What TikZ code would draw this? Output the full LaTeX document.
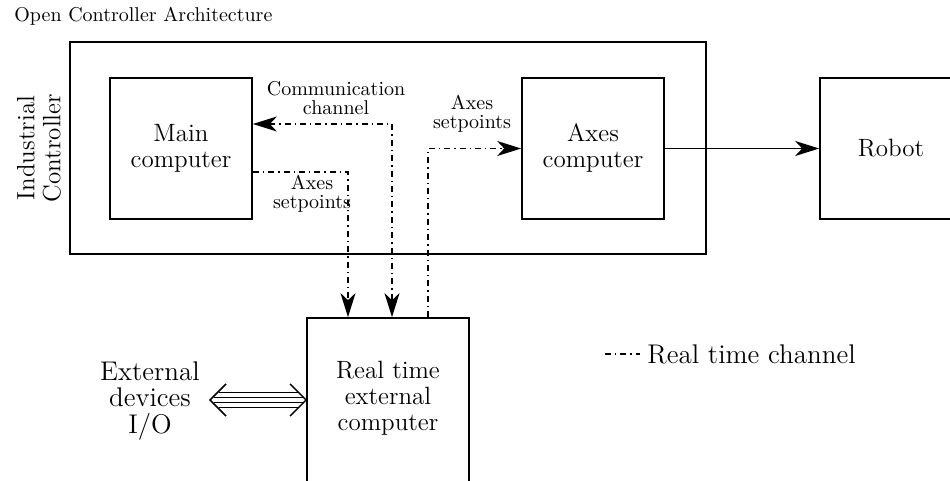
\documentclass[tikz,border=0pt]{standalone}
\usetikzlibrary{arrows.meta}
\begin{document}
\begin{tikzpicture}[x=0.5pt,y=-0.5pt,
  >={Stealth[length=12pt,width=7.5pt,inset=3.5pt]},
  box/.style={draw, line width=0.85pt, inner sep=0pt, align=center,
    font=\fontsize{12.5}{13}\selectfont},
  lbl/.style={align=center, inner sep=0pt, font=\fontsize{10}{9.5}\selectfont},
  rtch/.style={line width=0.7pt, dash pattern=on 3pt off 2pt on 0.7pt off 2pt},
  solidarrow/.style={line width=0.85pt},
  busline/.style={line width=0.75pt}]
\useasboundingbox (0,0) rectangle (950,481);
\clip (0,0) rectangle (950,481);

% title
\node[anchor=base west, inner sep=0pt, font=\fontsize{10}{12}\selectfont] (title) at (14,22) {Open Controller Architecture};

% industrial controller frame and its label
\node[box, minimum width=318pt, minimum height=106pt] (ic) at (388,148) {};
\node[rotate=90, align=center, inner sep=0pt, font=\fontsize{12.5}{13}\selectfont] (iclabel) at (39,148) {Industrial\\Controller};

% computers
\node[box, minimum width=71pt, minimum height=70.5pt] (main) at (181,148.5) {Main\\computer};
\node[box, minimum width=71pt, minimum height=70.5pt] (axes) at (593,148.5) {Axes\\computer};
\node[box, minimum width=71pt, minimum height=70.5pt] (robot) at (891,148.5) {Robot};
\node[box, minimum width=81pt, minimum height=85pt] (rt) at (388,403) {};
\node[align=center, inner sep=0pt, font=\fontsize{12.5}{13}\selectfont] (rttext) at (388,398) {Real time\\external\\computer};

% external devices
\node[align=center, inner sep=0pt, font=\fontsize{13.5}{13.25}\selectfont] (ext) at (150,401) {External\\devices\\I/O};

% real time channels
\draw[rtch, <->] ([yshift=12.25pt]main.east) -| ([xshift=2pt]rt.north);
\draw[rtch, ->] ([yshift=-11.75pt]main.east) -| ([xshift=-20pt]rt.north);
\draw[rtch, ->] ([xshift=20pt]rt.north) |- (axes.west);
\draw[solidarrow, ->] (axes) -- (robot);

% channel labels
\node[lbl] (commlbl) at (336,98) {Communication\\channel};
\node[lbl] (axlblR) at (472,114) {Axes\\setpoints};
\node[lbl] (axlblL) at (312,194) {Axes\\setpoints};

% I/O bus
\coordinate (ioL) at (210,400);
\coordinate (ioR) at (rt.west |- ioL);
\foreach \d/\a in {-7.5/7.5,-2.5/2.5,2.5/2.5,7.5/7.5}
  \draw[busline] ([shift={(\a+1,\d)}]ioL) -- ([shift={(-\a-1,\d)}]ioR);
\draw[busline] ([shift={(16,-16)}]ioL) -- (ioL) -- ([shift={(16,16)}]ioL);
\draw[busline] ([shift={(-16,-16)}]ioR) -- (ioR) -- ([shift={(-16,16)}]ioR);

% legend
\coordinate (lg1) at (605,354);
\coordinate (lg2) at (640,354);
\draw[rtch] (lg1) -- (lg2);
\node[anchor=west, inner sep=0pt, font=\fontsize{13.5}{14}\selectfont] (lgtext) at (647,354) {Real time channel};
\end{tikzpicture}
\end{document}
